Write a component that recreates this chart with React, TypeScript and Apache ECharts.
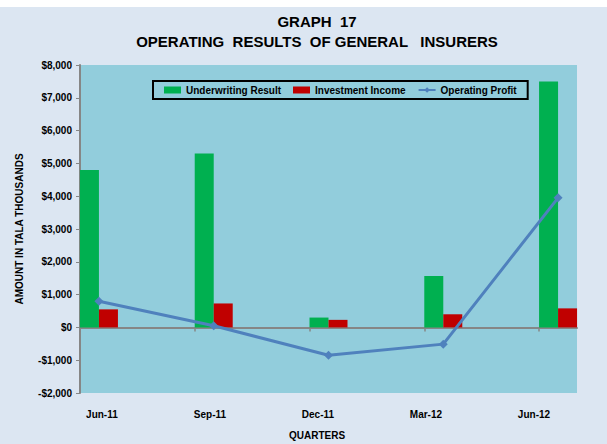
import React, { useEffect, useRef } from "react";
import * as echarts from "echarts";

const categories = ["Jun-11", "Sep-11", "Dec-11", "Mar-12", "Jun-12"];
const underwritingResult = [4800, 5300, 300, 1570, 7500];
const investmentIncome = [550, 730, 230, 400, 580];
const operatingProfit = [800, 50, -850, -510, 3950];
const yTicks = { min: -2000, max: 8000, interval: 1000 };

const FONT = "'Liberation Sans', Arial, sans-serif";

export default function App() {
  const ref = useRef<HTMLDivElement>(null);
  useEffect(() => {
    document.body.style.margin = "0";
    if (!ref.current) return;
    const chart = echarts.init(ref.current, undefined, { renderer: "svg" });
    const pad = 0.165;
    const n = categories.length;
    const tickPos = categories.map((_, i) => i - pad);
    const labelStep = (n - 1 - 0.026 - 0.21) / (n - 1);
    const labelPos = categories.map((_, i) => 0.026 + i * labelStep);
    const fmt = (v: number) =>
      (v < 0 ? "-$" : "$") + Math.abs(v).toLocaleString("en-US");
    chart.setOption({
      animation: false,
      backgroundColor: "#ffffff",
      title: {
        text: "GRAPH  17\nOPERATING  RESULTS  OF GENERAL   INSURERS",
        left: 312,
        top: 6,
        textAlign: "center",
        textStyle: {
          fontFamily: FONT,
          fontSize: 15,
          fontWeight: "bold",
          color: "#000",
          lineHeight: 20,
        },
      },
      graphic: [
        {
          type: "rect",
          z: -10,
          silent: true,
          shape: { x: 0, y: 7, width: 607, height: 437 },
          style: { fill: "#DCE6F2" },
        },
        {
          type: "text",
          left: 289,
          top: 430,
          style: {
            text: "QUARTERS",
            font: `bold 10px ${FONT}`,
            fill: "#000",
          },
        },
      ],
      legend: {
        left: 153,
        top: 81,
        padding: [4, 11, 4, 11],
        borderColor: "#000",
        borderWidth: 2,
        itemGap: 12,
        itemWidth: 17,
        itemHeight: 7,
        textStyle: {
          fontFamily: FONT,
          fontSize: 10,
          fontWeight: "bold",
          color: "#000",
        },
        data: [
          { name: "Underwriting Result", icon: "rect" },
          { name: "Investment Income", icon: "rect" },
          { name: "Operating Profit" },
        ],
      },
      grid: {
        left: 80,
        top: 65,
        width: 497,
        height: 328,
        show: true,
        backgroundColor: "#92CDDC",
        borderWidth: 0,
      },
      xAxis: [
        {
          type: "value",
          min: -pad,
          max: n - 1 + pad,
          position: "bottom",
          axisLine: { onZero: true, lineStyle: { color: "#868686", width: 2 } },
          axisTick: {
            show: true,
            customValues: tickPos,
            length: 4,
            lineStyle: { color: "#868686", width: 1.5 },
          },
          axisLabel: { show: false },
          splitLine: { show: false },
        },
        {
          type: "value",
          min: -pad,
          max: n - 1 + pad,
          position: "bottom",
          axisLine: { show: false, onZero: false },
          axisTick: { show: false },
          axisLabel: {
            show: true,
            customValues: labelPos,
            margin: 16,
            fontFamily: FONT,
            fontSize: 10,
            fontWeight: "bold",
            color: "#000",
            formatter: (v: number) => categories[Math.round(v)] ?? "",
          },
          splitLine: { show: false },
        },
      ],
      yAxis: {
        type: "value",
        min: yTicks.min,
        max: yTicks.max,
        interval: yTicks.interval,
        name: "AMOUNT IN TALA THOUSANDS",
        nameLocation: "middle",
        nameGap: 56,
        nameTextStyle: {
          fontFamily: FONT,
          fontSize: 10,
          fontWeight: "bold",
          color: "#000",
        },
        axisLine: {
          show: true,
          onZero: false,
          lineStyle: { color: "#868686", width: 2 },
        },
        axisTick: { show: true, length: 4, lineStyle: { color: "#868686" } },
        axisLabel: {
          margin: 8,
          fontFamily: FONT,
          fontSize: 10,
          fontWeight: "bold",
          color: "#000",
          formatter: fmt,
        },
        splitLine: { show: false },
      },
      series: [
        {
          name: "Underwriting Result",
          type: "bar",
          xAxisIndex: 0,
          barWidth: 19,
          barGap: "0%",
          itemStyle: { color: "#00B050" },
          data: underwritingResult.map((v, i) => [i, v]),
        },
        {
          name: "Investment Income",
          type: "bar",
          xAxisIndex: 0,
          barWidth: 19,
          barGap: "0%",
          itemStyle: { color: "#C00000" },
          data: investmentIncome.map((v, i) => [i, v]),
        },
        {
          name: "Operating Profit",
          type: "line",
          xAxisIndex: 0,
          symbol: "diamond",
          symbolSize: 9,
          lineStyle: { color: "#4F81BD", width: 3 },
          itemStyle: { color: "#4F81BD" },
          data: operatingProfit.map((v, i) => [i, v]),
          z: 5,
        },
      ],
    });
    return () => chart.dispose();
  }, []);
  return <div ref={ref} style={{ width: 607, height: 444 }} />;
}
